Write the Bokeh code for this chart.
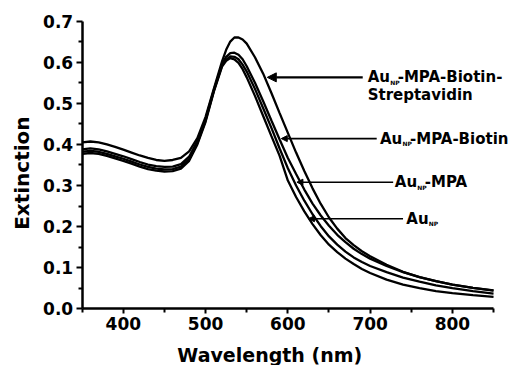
import math
from bokeh.plotting import figure
from bokeh.models import (Range1d, FixedTicker, NumeralTickFormatter,
                          Label, Arrow, NormalHead)
from bokeh.embed import file_html
from bokeh.resources import INLINE

# ---------------- data ----------------
wavelength = [350, 360, 370, 380, 390, 400, 410, 420, 430, 440, 450, 460, 470,
              480, 490, 500, 510, 520, 525, 530, 535, 540, 545, 550, 560, 570,
              580, 590, 600, 610, 620, 630, 640, 650, 660, 670, 680, 690, 700,
              720, 740, 760, 780, 800, 825, 850]

au_np = [0.377, 0.379, 0.377, 0.372, 0.366, 0.360, 0.353, 0.346, 0.340, 0.336,
         0.334, 0.335, 0.341, 0.360, 0.400, 0.455, 0.528, 0.589, 0.603, 0.610,
         0.607, 0.598, 0.583, 0.563, 0.518, 0.469, 0.420, 0.372, 0.312, 0.272,
         0.237, 0.206, 0.179, 0.156, 0.138, 0.122, 0.109, 0.097, 0.087, 0.071,
         0.059, 0.050, 0.043, 0.038, 0.033, 0.029]

au_np_mpa = [0.382, 0.384, 0.382, 0.377, 0.371, 0.365, 0.358, 0.351, 0.345,
             0.341, 0.339, 0.340, 0.346, 0.364, 0.403, 0.458, 0.530, 0.592,
             0.606, 0.614, 0.613, 0.607, 0.594, 0.577, 0.535, 0.488, 0.440,
             0.390, 0.342, 0.300, 0.263, 0.230, 0.201, 0.176, 0.156, 0.139,
             0.125, 0.114, 0.104, 0.089, 0.076, 0.066, 0.057, 0.050, 0.043,
             0.037]

au_np_mpa_biotin = [0.388, 0.390, 0.388, 0.383, 0.377, 0.371, 0.364, 0.357,
                    0.351, 0.347, 0.345, 0.346, 0.352, 0.370, 0.408, 0.462,
                    0.532, 0.595, 0.613, 0.622, 0.623, 0.618, 0.607, 0.590,
                    0.550, 0.505, 0.458, 0.412, 0.367, 0.328, 0.290, 0.256,
                    0.227, 0.202, 0.180, 0.162, 0.146, 0.133, 0.122, 0.104,
                    0.089, 0.077, 0.067, 0.059, 0.051, 0.044]

au_np_mpa_biotin_strep = [0.405, 0.407, 0.405, 0.400, 0.394, 0.387, 0.380,
                          0.373, 0.367, 0.362, 0.360, 0.362, 0.367, 0.383,
                          0.415, 0.467, 0.535, 0.602, 0.630, 0.650, 0.660,
                          0.660, 0.655, 0.645, 0.612, 0.572, 0.525, 0.476,
                          0.428, 0.380, 0.335, 0.293, 0.255, 0.222, 0.195,
                          0.172, 0.155, 0.140, 0.128, 0.107, 0.090, 0.077,
                          0.067, 0.059, 0.051, 0.045]

series = [au_np, au_np_mpa, au_np_mpa_biotin, au_np_mpa_biotin_strep]

x_major_ticks = [400, 500, 600, 700, 800]
x_minor_ticks = [350, 450, 550, 650, 750, 850]
y_major_ticks = [0.0, 0.1, 0.2, 0.3, 0.4, 0.5, 0.6, 0.7]
y_minor_ticks = [0.05, 0.15, 0.25, 0.35, 0.45, 0.55, 0.65]

# label texts: (main, subscript, rest)
label_parts = [
    ("Au", "NP", ""),
    ("Au", "NP", "-MPA"),
    ("Au", "NP", "-MPA-Biotin"),
    ("Au", "NP", "-MPA-Biotin-"),
]
second_line = "Streptavidin"
x_title = "Wavelength (nm)"
y_title = "Extinction"

# ---------------- figure ----------------
FONT = "DejaVu Sans"

# the frame covers the whole canvas so that no text is clipped;
# axes are pinned at the data origin and bounded to the data extent
p = figure(width=521, height=365, output_backend="svg", toolbar_location=None,
           x_range=Range1d(250.7, 884), y_range=Range1d(-0.138, 0.750),
           min_border_left=0, min_border_right=0, min_border_top=0,
           min_border_bottom=0)
p.outline_line_color = None
p.grid.visible = False
p.background_fill_color = "white"
p.border_fill_color = "white"

for ys in series:
    p.line(wavelength, ys, line_color="black", line_width=2.3)

for ax in (p.xaxis[0], p.yaxis[0]):
    ax.axis_line_width = 2.5
    ax.axis_line_color = "black"
    ax.major_tick_line_width = 2
    ax.minor_tick_line_width = 2
    ax.major_tick_in = 0
    ax.minor_tick_in = 0
    ax.major_label_text_font = FONT
    ax.major_label_text_font_style = "bold"
    ax.major_label_text_font_size = "17px"
    ax.major_label_text_color = "black"

p.xaxis.ticker = FixedTicker(ticks=x_major_ticks, minor_ticks=x_minor_ticks)
p.yaxis.ticker = FixedTicker(ticks=y_major_ticks, minor_ticks=y_minor_ticks)
p.yaxis.formatter = NumeralTickFormatter(format="0.0")
p.xaxis.fixed_location = 0
p.yaxis.fixed_location = 350
p.xaxis.bounds = (350, 850)
p.yaxis.bounds = (0, 0.7)
p.xaxis.major_tick_out = 5
p.xaxis.minor_tick_out = 4
p.yaxis.major_tick_out = 6
p.yaxis.minor_tick_out = 4
p.xaxis.major_label_standoff = 3
p.yaxis.major_label_standoff = 3

title_style = dict(text_font=FONT, text_font_style="bold", text_color="black",
                   text_align="center")
p.add_layout(Label(x=578, y=-0.085, text=x_title, text_baseline="top",
                   text_font_size="19px", **title_style))
p.add_layout(Label(x=277, y=0.33, text=y_title, text_baseline="middle",
                   angle=math.pi / 2, text_font_size="20px", **title_style))

# ---------------- arrows and labels ----------------
# (arrow tip wavelength, level, tail wavelength, text start wavelength, width, head)
arrow_specs = [
    (625, 0.219, 740, 744, 1.6, 6),
    (611, 0.308, 728, 730, 1.6, 6),
    (592, 0.414, 708, 712, 1.6, 6),
    (575, 0.563, 691, 697, 2.2, 9),
]

for (tip, lvl, tail, tx, lw, hs), (main, sub, rest) in zip(arrow_specs, label_parts):
    p.add_layout(Arrow(end=NormalHead(size=hs, fill_color="black", line_color="black"),
                       x_start=tail, y_start=lvl, x_end=tip, y_end=lvl,
                       line_color="black", line_width=lw))
    common = dict(text_font=FONT, text_font_style="bold", text_color="black",
                  text_baseline="middle")
    p.add_layout(Label(x=tx, y=lvl, text=main, text_font_size="15px", **common))
    p.add_layout(Label(x=tx, y=lvl, x_offset=22.5, y_offset=-5, text=sub,
                       text_font_size="6px", **common))
    if rest:
        p.add_layout(Label(x=tx, y=lvl, x_offset=30, text=rest,
                           text_font_size="15px", **common))

p.add_layout(Label(x=arrow_specs[-1][3], y=0.519, text=second_line,
                   text_font=FONT, text_font_style="bold", text_color="black",
                   text_baseline="middle", text_font_size="15px"))

open("out.html", "w").write(file_html(p, INLINE))
